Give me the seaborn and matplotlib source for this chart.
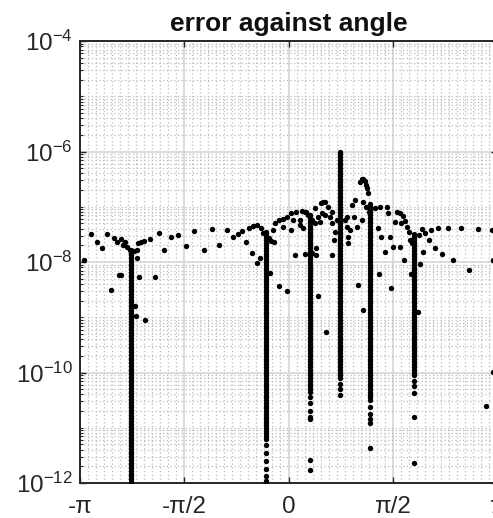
import numpy as np
import pandas as pd
import matplotlib
matplotlib.use("Agg")
import matplotlib.pyplot as plt
import seaborn as sns
from matplotlib.ticker import FixedLocator, LogLocator, NullFormatter, MultipleLocator

# ---------------- data ----------------
# scattered points: angle [rad], log10(error)
scatter_angle = [
    -3.08, -2.97, -2.88, -2.81, -2.73, -2.67, -2.63, -2.58, -2.56, -2.53,
    -2.53, -2.49, -2.47, -2.43, -2.39, -2.33, -2.31, -2.30, -2.29, -2.29,
    -2.27, -2.25, -2.22, -2.17, -2.16, -2.09, -2.01, -1.95, -1.87, -1.77,
    -1.67, -1.54, -1.42, -1.28, -1.16, -1.04, -0.93, -0.83, -0.76, -0.70,
    -0.64, -0.60, -0.55, -0.53, -0.48, -0.48, -0.43, -0.42, -0.38, -0.30,
    -0.28, -0.27, -0.22, -0.23, -0.20, -0.15, -0.14, -0.09, -0.08, -0.03,
    -0.03, 0.04, 0.04, 0.07, 0.10, 0.12, 0.17, 0.17, 0.20, 0.22,
    0.25, 0.25, 0.27, 0.30, 0.35, 0.35, 0.40, 0.40, 0.42, 0.42,
    0.45, 0.45, 0.47, 0.49, 0.50, 0.52, 0.55, 0.55, 0.56, 0.60,
    0.63, 0.65, 0.65, 0.65, 0.68, 0.70, 0.73, 0.85, 0.88, 0.88,
    0.90, 0.90, 0.93, 0.95, 0.98, 1.00, 1.03, 1.04, 1.07, 1.10,
    1.13, 1.15, 1.17, 1.19, 1.20, 1.10, 1.12, 1.13, 1.17, 1.22,
    1.30, 1.35, 1.37, 1.38, 1.40, 1.45, 1.48, 1.50, 1.53, 1.54,
    1.58, 1.60, 1.63, 1.68, 1.68, 1.70, 1.73, 1.74, 1.76, 1.78,
    1.81, 1.83, 1.85, 1.86, 1.95, 1.96, 1.98, 2.01, 2.02, 2.06,
    2.11, 2.15, 2.20, 2.25, 2.32, 2.40, 2.48, 2.60, 2.72, 2.85,
    2.97, 3.07, 3.08, 3.08,
]
scatter_log_err = [
    -7.97, -7.50, -7.63, -7.74, -7.50, -8.50, -7.57, -7.63, -8.24, -8.24,
    -7.59, -7.70, -7.63, -7.72, -7.78, -7.80, -8.80, -8.97, -7.78, -7.93,
    -7.66, -8.28, -7.63, -7.62, -9.05, -7.59, -8.27, -7.48, -7.78, -7.55,
    -7.51, -7.71, -7.43, -7.78, -7.41, -7.70, -7.42, -7.55, -7.49, -7.44,
    -7.63, -7.38, -7.84, -7.34, -8.02, -7.33, -7.93, -7.39, -7.47, -7.57,
    -8.20, -7.62, -7.63, -7.42, -7.30, -8.44, -7.24, -7.36, -7.22, -8.52,
    -7.18, -7.12, -7.42, -7.24, -7.87, -7.09, -7.33, -7.24, -7.07, -7.39,
    -7.10, -7.85, -7.09, -7.15, -7.24, -7.84, -7.03, -7.30, -7.75, -7.87,
    -7.18, -8.61, -7.27, -6.94, -7.12, -6.91, -6.92, -7.15, -9.27, -7.00,
    -7.18, -7.09, -7.30, -7.87, -7.60, -7.45, -7.24, -7.24, -7.18, -7.36,
    -7.54, -7.66, -7.42, -6.97, -7.18, -6.88, -7.36, -8.41, -6.56, -6.50,
    -6.50, -6.53, -6.60, -6.66, -6.75, -7.24, -8.86, -6.91, -7.00, -7.09,
    -7.03, -7.39, -8.21, -7.00, -7.54, -7.81, -7.00, -7.12, -7.55, -8.47,
    -7.72, -7.27, -7.09, -7.12, -7.72, -7.30, -7.17, -7.96, -7.25, -7.36,
    -7.45, -7.60, -8.22, -7.66, -8.90, -7.51, -8.03, -7.41, -7.81, -7.47,
    -7.60, -7.42, -7.74, -7.39, -7.85, -7.38, -7.96, -7.39, -8.15, -7.40,
    -10.61, -7.42, -7.96, -9.99,
]

# dense vertical columns of points: angle and log10(error) of each dot
spike_a_angle = -2.37
spike_a_log_err = [
    -7.78, -7.83, -7.88, -7.93, -7.98, -8.03, -8.08, -8.13, -8.18, -8.23,
    -8.28, -8.33, -8.38, -8.43, -8.48, -8.53, -8.58, -8.63, -8.68, -8.73,
    -8.78, -8.83, -8.88, -8.93, -8.98, -9.03, -9.08, -9.13, -9.18, -9.23,
    -9.28, -9.33, -9.38, -9.43, -9.48, -9.53, -9.58, -9.63, -9.68, -9.73,
    -9.78, -9.83, -9.88, -9.93, -9.98, -10.03, -10.08, -10.13, -10.18, -10.23,
    -10.28, -10.33, -10.38, -10.43, -10.48, -10.53, -10.58, -10.63, -10.68, -10.73,
    -10.78, -10.83, -10.88, -10.93, -10.98, -11.03, -11.08, -11.13, -11.18, -11.23,
    -11.28, -11.33, -11.38, -11.43, -11.48, -11.53, -11.58, -11.63, -11.68, -11.73,
    -11.78, -11.83, -11.88, -11.93, -11.98, -12.03,
]
spike_b_angle = -0.34
spike_b_log_err = [
    -7.45, -7.50, -7.55, -7.60, -7.65, -7.70, -7.75, -7.80, -7.85, -7.90,
    -7.95, -8.00, -8.05, -8.10, -8.15, -8.20, -8.25, -8.30, -8.35, -8.40,
    -8.45, -8.50, -8.55, -8.60, -8.65, -8.70, -8.75, -8.80, -8.85, -8.90,
    -8.95, -9.00, -9.05, -9.10, -9.15, -9.20, -9.25, -9.30, -9.35, -9.40,
    -9.45, -9.50, -9.55, -9.60, -9.65, -9.70, -9.75, -9.80, -9.85, -9.90,
    -9.95, -10.00, -10.05, -10.10, -10.15, -10.20, -10.25, -10.30, -10.35, -10.40,
    -10.45, -10.50, -10.55, -10.60, -10.65, -10.70, -10.75, -10.80, -10.85, -10.90,
    -10.95, -11.00, -11.05, -11.10, -11.15, -11.20, -11.32, -11.45, -11.60, -11.75,
    -11.87, -11.97,
]
spike_c_angle = 0.32
spike_c_log_err = [
    -7.15, -7.20, -7.25, -7.30, -7.35, -7.40, -7.45, -7.50, -7.55, -7.60,
    -7.65, -7.70, -7.75, -7.80, -7.85, -7.90, -7.95, -8.00, -8.05, -8.10,
    -8.15, -8.20, -8.25, -8.30, -8.35, -8.40, -8.45, -8.50, -8.55, -8.60,
    -8.65, -8.70, -8.75, -8.80, -8.85, -8.90, -8.95, -9.00, -9.05, -9.10,
    -9.15, -9.20, -9.25, -9.30, -9.35, -9.40, -9.45, -9.50, -9.55, -9.60,
    -9.65, -9.70, -9.75, -9.80, -9.85, -9.90, -9.95, -10.00, -10.05, -10.10,
    -10.15, -10.20, -10.25, -10.30, -10.35, -10.45, -10.55, -10.70, -10.80, -10.85,
    -11.58, -11.76,
]
spike_d_angle = 0.775
spike_d_log_err = [
    -6.00, -6.05, -6.10, -6.15, -6.20, -6.25, -6.30, -6.35, -6.40, -6.45,
    -6.50, -6.55, -6.60, -6.65, -6.70, -6.75, -6.80, -6.85, -6.90, -6.95,
    -7.00, -7.05, -7.10, -7.15, -7.20, -7.25, -7.30, -7.35, -7.40, -7.45,
    -7.50, -7.55, -7.60, -7.65, -7.70, -7.75, -7.80, -7.85, -7.90, -7.95,
    -8.00, -8.05, -8.10, -8.15, -8.20, -8.25, -8.30, -8.35, -8.40, -8.45,
    -8.50, -8.55, -8.60, -8.65, -8.70, -8.75, -8.80, -8.85, -8.90, -8.95,
    -9.00, -9.05, -9.10, -9.15, -9.20, -9.25, -9.30, -9.35, -9.40, -9.45,
    -9.50, -9.55, -9.60, -9.65, -9.70, -9.75, -9.80, -9.85, -9.90, -9.95,
    -10.00, -10.05, -10.10, -10.20, -10.30, -10.40,
]
spike_e_angle = 1.225
spike_e_log_err = [
    -6.95, -7.00, -7.05, -7.10, -7.15, -7.20, -7.25, -7.30, -7.35, -7.40,
    -7.45, -7.50, -7.55, -7.60, -7.65, -7.70, -7.75, -7.80, -7.85, -7.90,
    -7.95, -8.00, -8.05, -8.10, -8.15, -8.20, -8.25, -8.30, -8.35, -8.40,
    -8.45, -8.50, -8.55, -8.60, -8.65, -8.70, -8.75, -8.80, -8.85, -8.90,
    -8.95, -9.00, -9.05, -9.10, -9.15, -9.20, -9.25, -9.30, -9.35, -9.40,
    -9.45, -9.50, -9.55, -9.60, -9.65, -9.70, -9.75, -9.80, -9.85, -9.90,
    -9.95, -10.00, -10.05, -10.10, -10.15, -10.20, -10.25, -10.30, -10.35, -10.40,
    -10.45, -10.50, -10.62, -10.75, -10.85, -10.92, -11.36,
]
spike_f_angle = 1.89
spike_f_log_err = [
    -7.50, -7.55, -7.60, -7.65, -7.70, -7.75, -7.80, -7.85, -7.90, -7.95,
    -8.00, -8.05, -8.10, -8.15, -8.20, -8.25, -8.30, -8.35, -8.40, -8.45,
    -8.50, -8.55, -8.60, -8.65, -8.70, -8.75, -8.80, -8.85, -8.90, -8.95,
    -9.00, -9.05, -9.10, -9.15, -9.20, -9.25, -9.30, -9.35, -9.40, -9.45,
    -9.50, -9.55, -9.60, -9.65, -9.70, -9.75, -9.80, -9.85, -9.90, -9.95,
    -10.00, -10.05, -10.15, -10.25, -10.37, -10.80, -11.63,
]

x_tick_labels = ["-\u03c0", "-\u03c0/2", "0", "\u03c0/2", "\u03c0"]
y_tick_labels = [r"$10^{-12}$", r"$10^{-10}$", r"$10^{-8}$", r"$10^{-6}$", r"$10^{-4}$"]
title_text = "error against angle"

# ---------------- assemble table ----------------
angles = list(scatter_angle)
log_errs = list(scatter_log_err)
for a, vals in [(spike_a_angle, spike_a_log_err), (spike_b_angle, spike_b_log_err),
                (spike_c_angle, spike_c_log_err), (spike_d_angle, spike_d_log_err),
                (spike_e_angle, spike_e_log_err), (spike_f_angle, spike_f_log_err)]:
    angles += [a] * len(vals)
    log_errs += vals
df = pd.DataFrame({"angle": angles, "error": np.power(10.0, log_errs)})

# ---------------- style ----------------
sns.set_theme(style="white")
plt.rcParams["font.family"] = ["Liberation Sans", "DejaVu Sans"]
plt.rcParams["mathtext.fontset"] = "custom"
plt.rcParams["mathtext.rm"] = "Liberation Sans"
plt.rcParams["mathtext.it"] = "Liberation Sans:italic"
plt.rcParams["mathtext.bf"] = "Liberation Sans:bold"

W, H = 493, 518
fig = plt.figure(figsize=(W / 100, H / 100), dpi=100)
ax = fig.add_axes([80 / W, 35 / H, 417 / W, 442 / H])

sns.scatterplot(data=df, x="angle", y="error", color="black", s=15,
                linewidth=0, edgecolor=None, ax=ax, legend=False, zorder=3)

ax.set_yscale("log")
ax.set_xlim(-np.pi, np.pi)
ax.set_ylim(1e-12, 1e-4)
ax.set_xlabel("")
ax.set_ylabel("")

axc = "#262626"
ax.xaxis.set_major_locator(FixedLocator([-np.pi, -np.pi / 2, 0, np.pi / 2, np.pi]))
ax.set_xticklabels(x_tick_labels)
ax.xaxis.set_minor_locator(MultipleLocator(np.pi / 26))
ax.yaxis.set_major_locator(FixedLocator([1e-12, 1e-10, 1e-8, 1e-6, 1e-4]))
ax.set_yticklabels(y_tick_labels)
ax.yaxis.set_minor_locator(LogLocator(base=10, subs=np.arange(1, 10), numticks=100))
ax.yaxis.set_minor_formatter(NullFormatter())

ax.tick_params(axis="both", which="major", direction="in", length=4, width=1,
               color=axc, labelcolor=axc, labelsize=17.4,
               top=True, right=True, bottom=True, left=True)
ax.tick_params(axis="y", which="major", pad=5)
ax.tick_params(axis="x", which="major", pad=9.5)
ax.tick_params(axis="y", which="minor", direction="in", length=2.5, width=0.8,
               color=axc, left=True, right=True)
ax.tick_params(axis="x", which="minor", length=0)

ax.set_axisbelow(True)
ax.grid(True, which="major", color="#d6d6d6", linewidth=1.2, linestyle="-")
ax.grid(True, which="minor", color="#bdbdbd", linewidth=0.9, linestyle=(0, (1, 2)))

for sp in ax.spines.values():
    sp.set_visible(True)
    sp.set_color(axc)
    sp.set_linewidth(1.4)

ax.set_title(title_text, fontsize=19, fontweight="bold", color="#111111", pad=7.2)

fig.savefig("out.png", dpi=100)
